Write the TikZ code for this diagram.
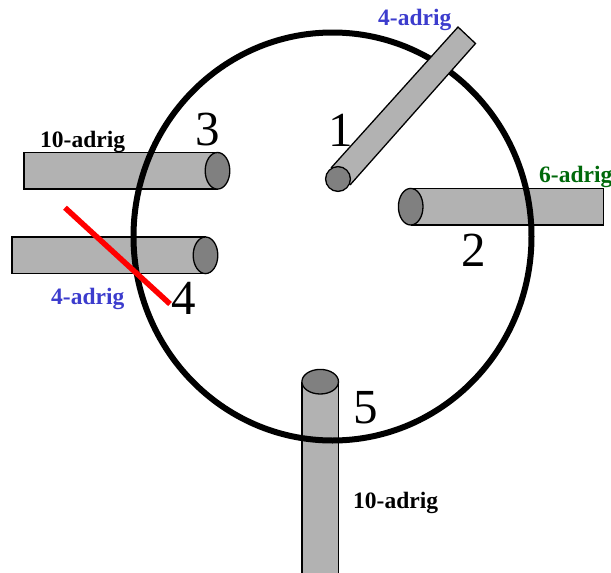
\documentclass[tikz,border=0pt]{standalone}
\usepackage{fontspec}
\setmainfont{Liberation Serif}
\definecolor{cablegray}{HTML}{B2B2B2}
\definecolor{capgray}{HTML}{808080}
\definecolor{labelblue}{RGB}{60,60,205}
\definecolor{labelgreen}{RGB}{0,105,10}
\tikzset{
  cablebody/.style={draw=black,fill=cablegray,line width=1.3pt,line join=miter},
  cablecap/.style={draw=black,fill=capgray,line width=1.3pt},
  ring/.style={draw=black,line width=6pt},
  marker/.style={draw=red,line width=5.5pt},
  wirelabel/.style={font=\fontsize{23.5}{26}\selectfont\bfseries,inner sep=0pt,anchor=base west},
  numlabel/.style={font=\fontsize{49}{52}\selectfont,inner sep=0pt,anchor=base,text=black}
}
\begin{document}
\begin{tikzpicture}[x=1pt,y=-1pt]
\useasboundingbox (0,0) rectangle (611,573);
% cables under the ring
\draw[cablebody] (217.5,152.5) -- (24,152.5) -- (24,189) -- (217.5,189);
\draw[cablecap] (217.5,170.8) ellipse [x radius=12.3,y radius=18.3];
\draw[cablebody] (205.5,237) -- (12,237) -- (12,273.7) -- (205.5,273.7);
\draw[cablecap] (205.5,255.3) ellipse [x radius=12.3,y radius=18.3];
\draw[cablebody] (410.7,188.3) -- (603.3,188.3) -- (603.3,225) -- (410.7,225);
\draw[cablecap] (410.7,206.7) ellipse [x radius=12.3,y radius=18.3];
\fill[cablegray] (302,381.7) rectangle (338.3,575);
\draw[cablebody] (302,381.7) -- (302,575) (338.3,381.7) -- (338.3,575);
\draw[cablecap] (320.2,381.7) ellipse [x radius=18.3,y radius=12.3];
% ring
\draw[ring] (332.5,236.5) ellipse [x radius=199,y radius=204];
% cable 1 above the ring
\draw[cablebody] (331,168) -- (458,27) -- (475.5,43.5) -- (350,185);
\draw[cablecap] (338,179) ellipse [x radius=12.4,y radius=12.4];
% red marker
\draw[marker] (65,207.7) -- (170,304);
% labels
\node[wirelabel,text=labelblue] (wa) at (378,25.5) {4-adrig};
\node[wirelabel,text=black] (wb) at (40,147) {10-adrig};
\node[wirelabel,text=labelblue] (wc) at (51,304) {4-adrig};
\node[wirelabel,text=labelgreen] (wd) at (539,182.5) {6-adrig};
\node[wirelabel,text=black] (we) at (353,508) {10-adrig};
\node[numlabel] (n1) at (341,146) {1};
\node[numlabel] (n2) at (474,266.5) {2};
\node[numlabel] (n3) at (207.5,145.5) {3};
\node[numlabel] (n4) at (184,314) {4};
\node[numlabel] (n5) at (365.5,423.5) {5};
\end{tikzpicture}
\end{document}
